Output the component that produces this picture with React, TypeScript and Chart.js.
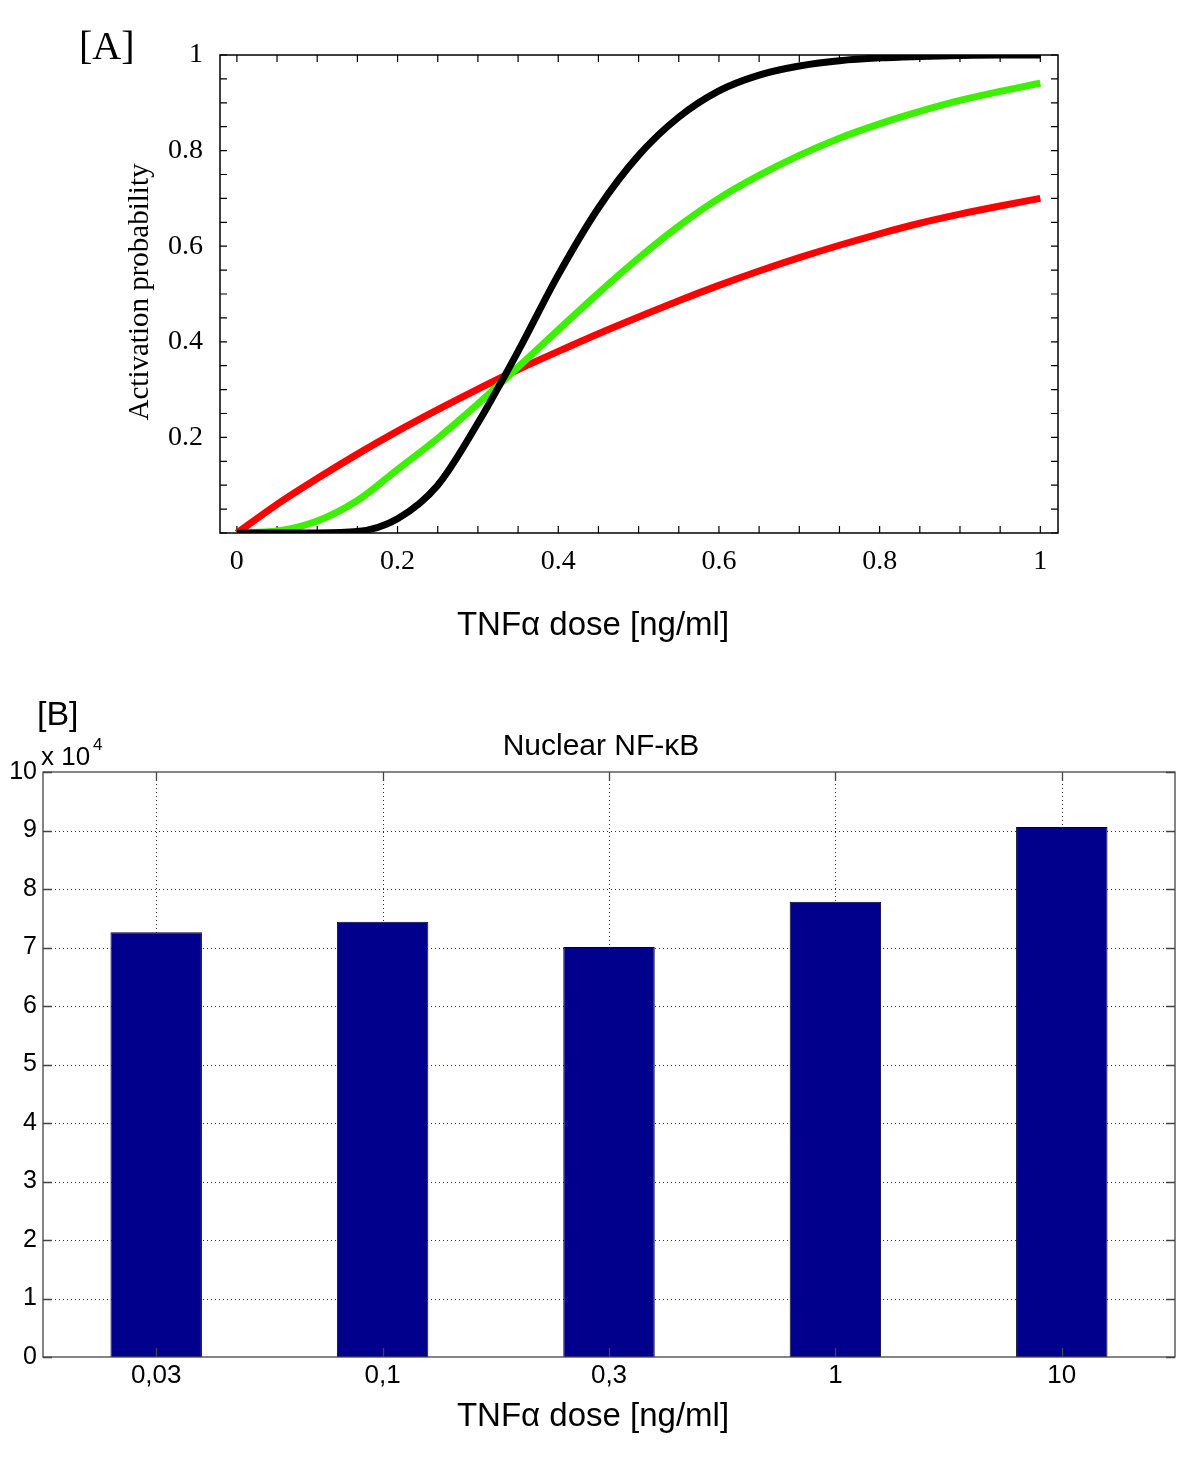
import React, { useEffect, useRef } from 'react';
import { Chart, registerables } from 'chart.js';
Chart.register(...registerables);

// ---------- Panel A data ----------
const doses = [0, 0.05, 0.1, 0.15, 0.2, 0.25, 0.3, 0.35, 0.4, 0.45, 0.5, 0.55, 0.6, 0.65, 0.7, 0.75, 0.8, 0.85, 0.9, 0.95, 1];
const blackProb = [0, 0, 0, 0.003, 0.03, 0.1, 0.23, 0.38, 0.54, 0.68, 0.79, 0.87, 0.925, 0.958, 0.977, 0.988, 0.994, 0.997, 0.999, 1, 1];
const greenProb = [0, 0.004, 0.025, 0.068, 0.133, 0.198, 0.27, 0.347, 0.425, 0.502, 0.575, 0.642, 0.7, 0.748, 0.79, 0.826, 0.856, 0.882, 0.905, 0.924, 0.941];
const redProb = [0, 0.06, 0.114, 0.165, 0.213, 0.258, 0.301, 0.342, 0.38, 0.417, 0.452, 0.486, 0.518, 0.548, 0.576, 0.602, 0.626, 0.648, 0.667, 0.684, 0.7];
const xTicksA = [0, 0.2, 0.4, 0.6, 0.8, 1];
const yTicksA = [0.2, 0.4, 0.6, 0.8, 1];
const minorStepA = 0.05;

// ---------- Panel B data ----------
const doseLabelsB = ['0,03', '0,1', '0,3', '1', '10'];
const nuclearNFkB = [72600, 74400, 70100, 77800, 90600];
const yTicksB = [0, 10000, 20000, 30000, 40000, 50000, 60000, 70000, 80000, 90000, 100000];

const SERIF = '"Liberation Serif", "Times New Roman", serif';
const SANS = '"Liberation Sans", Arial, sans-serif';

const pts = (ys: number[]) => doses.map((x, i) => ({ x, y: ys[i] }));

const panelAPlugin = {
  id: 'panelA',
  beforeDatasetsDraw(chart: any) {
    const { ctx, chartArea: ca, scales } = chart;
    const xs = scales.x, ys = scales.y;
    ctx.save();
    ctx.strokeStyle = '#000';
    ctx.lineWidth = 1.5;
    ctx.strokeRect(ca.left, ca.top, ca.right - ca.left, ca.bottom - ca.top);
    ctx.lineWidth = 1.2;
    const tl = 7;
    for (let k = 0; k <= 20; k++) {
      const v = k * minorStepA;
      const px = xs.getPixelForValue(v);
      const py = ys.getPixelForValue(v);
      ctx.beginPath();
      ctx.moveTo(px, ca.bottom); ctx.lineTo(px, ca.bottom - tl);
      ctx.moveTo(px, ca.top); ctx.lineTo(px, ca.top + tl);
      ctx.moveTo(ca.left, py); ctx.lineTo(ca.left + tl, py);
      ctx.moveTo(ca.right, py); ctx.lineTo(ca.right - tl, py);
      ctx.stroke();
    }
    ctx.restore();
  },
  afterDraw(chart: any) {
    const { ctx } = chart;
    ctx.save();
    ctx.fillStyle = '#000';
    ctx.font = `40px ${SERIF}`;
    ctx.textAlign = 'left';
    ctx.textBaseline = 'middle';
    ctx.fillText('[A]', 79, 48);
    ctx.save();
    ctx.translate(140, 292);
    ctx.rotate(-Math.PI / 2);
    ctx.font = `29px ${SERIF}`;
    ctx.textAlign = 'center';
    ctx.fillText('Activation probability', 0, 0);
    ctx.restore();
    ctx.font = `33px ${SANS}`;
    ctx.textAlign = 'center';
    ctx.fillText('TNF\u03B1 dose [ng/ml]', 593, 626);
    ctx.restore();
  },
};

const panelBPlugin = {
  id: 'panelB',
  beforeDatasetsDraw(chart: any) {
    const { ctx, chartArea: ca, scales } = chart;
    const xs = scales.x, ys = scales.y;
    ctx.save();
    ctx.strokeStyle = '#333';
    ctx.lineWidth = 1;
    ctx.setLineDash([1, 3]);
    yTicksB.forEach((v) => {
      const py = Math.round(ys.getPixelForValue(v)) + 0.5;
      if (py <= ca.top + 1 || py >= ca.bottom - 1) return;
      ctx.beginPath(); ctx.moveTo(ca.left, py); ctx.lineTo(ca.right, py); ctx.stroke();
    });
    doseLabelsB.forEach((_, i) => {
      const px = Math.round(xs.getPixelForValue(i)) + 0.5;
      ctx.beginPath(); ctx.moveTo(px, ca.top); ctx.lineTo(px, ca.bottom); ctx.stroke();
    });
    ctx.restore();
  },
  afterDatasetsDraw(chart: any) {
    const { ctx, chartArea: ca, scales } = chart;
    const xs = scales.x, ys = scales.y;
    ctx.save();
    ctx.strokeStyle = '#444';
    ctx.lineWidth = 1.3;
    ctx.strokeRect(ca.left, ca.top, ca.right - ca.left, ca.bottom - ca.top);
    const tl = 9;
    ctx.beginPath();
    yTicksB.forEach((v) => {
      const py = Math.round(ys.getPixelForValue(v)) + 0.5;
      ctx.moveTo(ca.left, py); ctx.lineTo(ca.left + tl, py);
      ctx.moveTo(ca.right, py); ctx.lineTo(ca.right - tl, py);
    });
    doseLabelsB.forEach((_, i) => {
      const px = Math.round(xs.getPixelForValue(i)) + 0.5;
      ctx.moveTo(px, ca.top); ctx.lineTo(px, ca.top + tl);
      ctx.moveTo(px, ca.bottom); ctx.lineTo(px, ca.bottom - tl);
    });
    ctx.stroke();
    ctx.restore();
  },
  afterDraw(chart: any) {
    const { ctx } = chart;
    ctx.save();
    ctx.fillStyle = '#000';
    ctx.textBaseline = 'middle';
    ctx.textAlign = 'left';
    ctx.font = `34px ${SANS}`;
    ctx.fillText('[B]', 37, 26);
    ctx.font = `26px ${SANS}`;
    ctx.fillText('x 10', 41, 68);
    ctx.font = `17px ${SANS}`;
    ctx.fillText('4', 93, 55);
    ctx.font = `30px ${SANS}`;
    ctx.textAlign = 'center';
    ctx.fillText('Nuclear NF-\u03BAB', 601, 57);
    ctx.font = `33px ${SANS}`;
    ctx.fillText('TNF\u03B1 dose [ng/ml]', 593, 727);
    ctx.restore();
  },
};

export default function App() {
  const refA = useRef<HTMLCanvasElement>(null);
  const refB = useRef<HTMLCanvasElement>(null);

  useEffect(() => {
    const chartA = new Chart(refA.current!, {
      type: 'line',
      data: {
        datasets: [
          { data: pts(blackProb), borderColor: '#000000', borderWidth: 7 },
          { data: pts(greenProb), borderColor: '#3cf000', borderWidth: 7 },
          { data: pts(redProb), borderColor: '#ff0000', borderWidth: 7 },
        ].map((d) => ({ ...d, pointRadius: 0, cubicInterpolationMode: 'monotone' as const, fill: false })),
      },
      options: {
        responsive: false,
        animation: false,
        layout: { padding: { left: 0, top: 55, right: 142, bottom: 0 } },
        plugins: { legend: { display: false }, tooltip: { enabled: false } },
        scales: {
          x: {
            type: 'linear',
            min: -0.021,
            max: 1.022,
            afterBuildTicks: (s: any) => { s.ticks = xTicksA.map((v) => ({ value: v })); },
            afterFit: (s: any) => { s.height = 157; },
            grid: { display: false, drawTicks: false },
            border: { display: false },
            ticks: { padding: 12, color: '#000', maxRotation: 0, font: { family: SERIF, size: 28 }, callback: (v: any) => String(v) },
          },
          y: {
            type: 'linear',
            min: 0,
            max: 1,
            afterBuildTicks: (s: any) => { s.ticks = yTicksA.map((v) => ({ value: v })); },
            afterFit: (s: any) => { s.width = 220; },
            grid: { display: false, drawTicks: false },
            border: { display: false },
            ticks: { padding: 17, color: '#000', font: { family: SERIF, size: 28 }, callback: (v: any) => String(v) },
          },
        },
      },
      plugins: [panelAPlugin],
    });

    const chartB = new Chart(refB.current!, {
      type: 'bar',
      data: {
        labels: doseLabelsB,
        datasets: [
          {
            data: nuclearNFkB,
            backgroundColor: '#00008c',
            borderColor: '#000033',
            borderWidth: 1,
            barPercentage: 0.404,
            categoryPercentage: 1,
          },
        ],
      },
      options: {
        responsive: false,
        animation: false,
        layout: { padding: { left: 0, top: 82, right: 25, bottom: 0 } },
        plugins: { legend: { display: false }, tooltip: { enabled: false } },
        scales: {
          x: {
            type: 'category',
            offset: true,
            afterFit: (s: any) => { s.height = 100; },
            grid: { display: false, drawTicks: false },
            border: { display: false },
            ticks: { padding: 3, color: '#000', maxRotation: 0, font: { family: SANS, size: 26 } },
          },
          y: {
            type: 'linear',
            min: 0,
            max: 100000,
            afterBuildTicks: (s: any) => { s.ticks = yTicksB.map((v) => ({ value: v })); },
            afterFit: (s: any) => { s.width = 43; },
            grid: { display: false, drawTicks: false },
            border: { display: false },
            ticks: { padding: 6, color: '#000', font: { family: SANS, size: 25 }, callback: (v: any) => String(v / 10000) },
          },
        },
      },
      plugins: [panelBPlugin],
    });

    return () => { chartA.destroy(); chartB.destroy(); };
  }, []);

  return (
    <div style={{ position: 'absolute', left: 0, top: 0, width: 1200, height: 1457, background: '#fff' }}>
      <canvas ref={refA} width={1200} height={690} style={{ position: 'absolute', left: 0, top: 0, width: 1200, height: 690 }} />
      <canvas ref={refB} width={1200} height={767} style={{ position: 'absolute', left: 0, top: 690, width: 1200, height: 767 }} />
    </div>
  );
}
